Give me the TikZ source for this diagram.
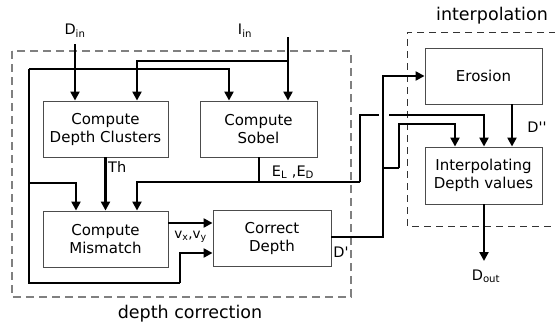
\documentclass[tikz,border=0pt]{standalone}
\usepackage{fontspec}
\setmainfont{DejaVu Sans}
\newfontfamily\dvplain{DejaVu Sans}
\usetikzlibrary{arrows.meta}
\begin{document}
\begin{tikzpicture}[x=1pt,y=-1pt,
  box/.style={draw=black!70,line width=0.9pt,rectangle,minimum height=56pt,align=center,inner sep=0pt,font=\fontsize{15}{18}\selectfont},
  conn/.style={line width=2.4pt,-{Triangle[length=9pt,width=9pt]}},
  wire/.style={line width=2.4pt},
  lbl/.style={font=\fontsize{14.5}{17}\selectfont,inner sep=0pt},
  grp/.style={font=\fontsize{17.5}{20}\selectfont,inner sep=0pt}]
\useasboundingbox (0,0) rectangle (555,324);
% group frames
\draw[black!50,line width=1.2pt,dash pattern=on 8pt off 5pt] (12,51) rectangle (351,297);
\node[grp] (gdc) at (190,314) {depth correction};
\draw[black!80,line width=1pt,dash pattern=on 7pt off 5pt] (556,32) -- (407,32) -- (407,226) -- (556,226);
\node[grp] (gip) at (492,16) {interpolation};
% boxes
\node[box,minimum width=125pt] (dc) at (105.5,129) {Compute\\Depth Clusters};
\node[box,minimum width=117pt] (sob) at (258.5,129) {Compute\\Sobel};
\node[box,minimum width=125pt] (mm) at (105.5,239) {Compute\\Mismatch};
\node[box,minimum width=118pt] (cd) at (272,238) {Correct\\Depth};
\node[box,minimum width=117pt] (ero) at (483.5,76) {Erosion};
\node[box,minimum width=117pt,minimum height=57pt] (ip) at (483.5,175.5) {Interpolating\\Depth values};
% inputs
\node[lbl] (din) at (75,31) {D\textsubscript{in}};
\node[lbl] (iin) at (245,31) {I\textsubscript{in}};
\coordinate (dinS) at (75,44);
\coordinate (iinS) at (288,37);
\coordinate (jD) at (75,69);
\coordinate (L1) at (29,69);
\coordinate (L2) at (29,183);
\coordinate (L3) at (29,283);
\coordinate (L4) at (180,283);
\coordinate (cdIn2) at (213,253);
\coordinate (jI) at (288,61);
\draw[conn] (dinS) -- (dinS |- dc.north);
\draw[conn] (L1) -| (229,0 |- sob.north);
\draw[wire] (L1) -- (L3) -- (L4);
\draw[conn] (L4) |- (cd.west |- cdIn2);
\draw[conn] (L2) -| (76,0 |- mm.north);
\draw[conn] (iinS) -- (iinS |- sob.north);
\draw[conn] (jI) -| (137,0 |- dc.north);
% Th
\draw[conn] (dc.south) -- (mm.north);
\node[lbl,anchor=west] (th) at (108,167) {Th};
% Sobel output
\coordinate (sb1) at (259,182);
\coordinate (sR) at (360,182);
\coordinate (sRt) at (360,115);
\coordinate (gapA) at (379,115);
\coordinate (gapB) at (389,115);
\draw[wire] (sob.south -| sb1) -- (sb1);
\draw[conn] (sR) -| (137,0 |- mm.north);
\draw[wire] (sR) -- (sRt) -- (gapA);
\draw[conn] (gapB) -| (484,0 |- ip.north);
\node[lbl] (eled) at (293,172) {E\textsubscript{L} ,E\textsubscript{D}};
% mismatch -> correct
\coordinate (mv) at (0,223);
\draw[conn] (mm.east |- mv) -- (cd.west |- mv);
\node[lbl,font=\fontsize{13.5}{16}\selectfont] (vxy) at (190.5,237) {v\textsubscript{x},v\textsubscript{y}};
% D'
\coordinate (dp0) at (0,237);
\coordinate (dpV) at (383,237);
\coordinate (dpJ) at (383,168);
\coordinate (dpB) at (399,168);
\coordinate (dpT) at (455,124);
\draw[conn] (cd.east |- dp0) -- (dpV) |- (ero.west);
\draw[wire] (dpJ) -- (dpB);
\draw[conn] (dpB) |- (dpT) -- (dpT |- ip.north);
\node[lbl] (dpl) at (341,252) {\dvplain D'};
% D''
\draw[conn] (ero.south -| 512,0) -- (ip.north -| 512,0);
\node[lbl] (dppl) at (537,127) {\dvplain D''};
% output
\coordinate (dout) at (484,261);
\draw[conn] (ip.south -| dout) -- (dout);
\node[lbl] (doutl) at (486,276) {D\textsubscript{out}};
\end{tikzpicture}
\end{document}
